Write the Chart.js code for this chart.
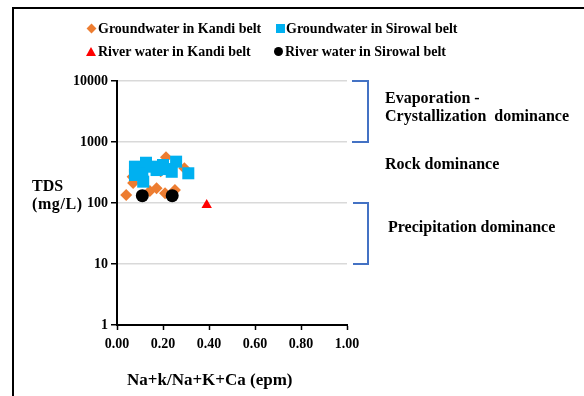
<!DOCTYPE html>
<html><head><meta charset="utf-8">
<script src="https://cdn.jsdelivr.net/npm/chart.js@4.4.1/dist/chart.umd.min.js"></script>
<style>
html,body{margin:0;padding:0;background:#fff;}
#wrap{position:relative;width:584px;height:396px;overflow:hidden;font-family:"Liberation Serif","Times New Roman",serif;font-weight:bold;color:#000;}
#frame{position:absolute;left:12px;top:7px;width:600px;height:400px;border-left:2px solid #000;border-top:2px solid #000;}
canvas{position:absolute;left:0;top:0;}
.t{position:absolute;font-size:16px;white-space:nowrap;line-height:1;}
.leg{position:absolute;font-size:14px;white-space:nowrap;line-height:1;}
.mk{position:absolute;}
</style></head>
<body><div id="wrap">
<div id="frame"></div>
<canvas id="c" width="584" height="396"></canvas>
<div class="mk" style="left:88px;top:25px;width:7px;height:7px;background:#ED7D31;transform:rotate(45deg);"></div>
<div class="leg" style="left:98px;top:22px;">Groundwater in Kandi belt</div>
<div class="mk" style="left:276px;top:24px;width:9px;height:9px;background:#00B0F0;"></div>
<div class="leg" style="left:286px;top:22px;">Groundwater in Sirowal belt</div>
<div class="mk" style="left:86px;top:47px;width:0;height:0;border-left:5px solid transparent;border-right:5px solid transparent;border-bottom:9px solid #FF0000;"></div>
<div class="leg" style="left:98px;top:45px;">River water in Kandi belt</div>
<div class="mk" style="left:274px;top:47px;width:9px;height:9px;border-radius:50%;background:#000;"></div>
<div class="leg" style="left:285px;top:45px;">River water in Sirowal belt</div>
<div class="t" style="left:32px;top:178px;">TDS</div>
<div class="t" style="left:32px;top:196px;letter-spacing:0.6px;">(mg/L)</div>
<div class="t" style="left:127px;top:371px;font-size:17px;">Na+k/Na+K+Ca (epm)</div>
<div class="t" style="left:385px;top:90px;">Evaporation -</div>
<div class="t" style="left:385px;top:108px;">Crystallization&nbsp; dominance</div>
<div class="t" style="left:385px;top:156px;">Rock dominance</div>
<div class="t" style="left:388px;top:219px;">Precipitation dominance</div>
</div>
<script>
// Data
const kandiGW_x = [0.04, 0.07, 0.068, 0.143, 0.172, 0.209, 0.252, 0.213, 0.293, 0.19];
const kandiGW_y = [135, 213, 270, 157, 174, 144, 163, 560, 371, 330];
const sirowalGW_x = [0.078, 0.126, 0.114, 0.11, 0.172, 0.238, 0.257, 0.31, 0.2, 0.15, 0.078, 0.22];
const sirowalGW_y = [394, 457, 224, 307, 347, 325, 476, 307, 420, 394, 288, 360];
const kandiRW_x = [0.39];
const kandiRW_y = [93];
const sirowalRW_x = [0.11, 0.24];
const sirowalRW_y = [132, 132];
const xTicks = [0, 0.2, 0.4, 0.6, 0.8, 1.0];
const yTicks = [1, 10, 100, 1000, 10000];
// bracket ranges (TDS values) for zone annotations
const zoneBrackets = [[1000, 10000], [10, 100]];

const pts = (xs, ys) => xs.map((x, i) => ({x: x, y: ys[i]}));

const bracketPlugin = {
  id: 'brackets',
  afterDraw(chart) {
    const ctx = chart.ctx, y = chart.scales.y;
    ctx.save();
    ctx.strokeStyle = '#4472C4';
    ctx.lineWidth = 2;
    const xr = 368;
    zoneBrackets.forEach((b, i) => {
      const yTop = y.getPixelForValue(b[1]);
      const yBot = y.getPixelForValue(b[0]);
      const xl = i === 0 ? 352 : 353;
      ctx.beginPath();
      ctx.moveTo(xl, yTop);
      ctx.lineTo(xr, yTop);
      ctx.lineTo(xr, yBot);
      ctx.lineTo(xl, yBot);
      ctx.stroke();
    });
    ctx.restore();
  }
};

new Chart(document.getElementById('c'), {
  type: 'scatter',
  data: {
    datasets: [
      {label: 'Groundwater in Kandi belt', data: pts(kandiGW_x, kandiGW_y), pointStyle: 'rectRot', pointRadius: 6, backgroundColor: '#ED7D31', borderColor: '#ED7D31', borderWidth: 0, order: 4},
      {label: 'Groundwater in Sirowal belt', data: pts(sirowalGW_x, sirowalGW_y), pointStyle: 'rect', pointRadius: 8.5, backgroundColor: '#00B0F0', borderColor: '#00B0F0', borderWidth: 0, order: 3},
      {label: 'River water in Kandi belt', data: pts(kandiRW_x, kandiRW_y), pointStyle: 'triangle', pointRadius: 6, backgroundColor: '#FF0000', borderColor: '#FF0000', borderWidth: 0, order: 2},
      {label: 'River water in Sirowal belt', data: pts(sirowalRW_x, sirowalRW_y), pointStyle: 'circle', pointRadius: 6.5, backgroundColor: '#000000', borderColor: '#000000', borderWidth: 0, order: 1}
    ]
  },
  options: {
    responsive: false,
    animation: false,
    layout: {padding: {left: 0, top: 81, right: 237, bottom: 0}},
    plugins: {legend: {display: false}, tooltip: {enabled: false}},
    scales: {
      x: {
        type: 'linear', min: 0, max: 1,
        afterBuildTicks: s => { s.ticks = xTicks.map(v => ({value: v})); },
        afterFit: s => { s.height = 71; },
        ticks: {callback: v => Number(v).toFixed(2), color: '#000', font: {family: 'Liberation Serif', size: 14, weight: 'bold'}, padding: 6, maxRotation: 0},
        grid: {drawOnChartArea: false, tickLength: 5, tickColor: '#000', tickWidth: 1.5},
        border: {color: '#000', width: 2}
      },
      y: {
        type: 'logarithmic', min: 1, max: 10000,
        afterBuildTicks: s => { s.ticks = yTicks.map(v => ({value: v})); },
        afterFit: s => { s.width = 117; },
        ticks: {callback: v => String(v), color: '#000', font: {family: 'Liberation Serif', size: 14, weight: 'bold'}, padding: 3},
        grid: {color: '#D9D9D9', lineWidth: 1.5, tickLength: 6, tickColor: '#000', tickWidth: 1.5},
        border: {color: '#000', width: 2}
      }
    }
  },
  plugins: [bracketPlugin]
});
</script>
</body></html>
